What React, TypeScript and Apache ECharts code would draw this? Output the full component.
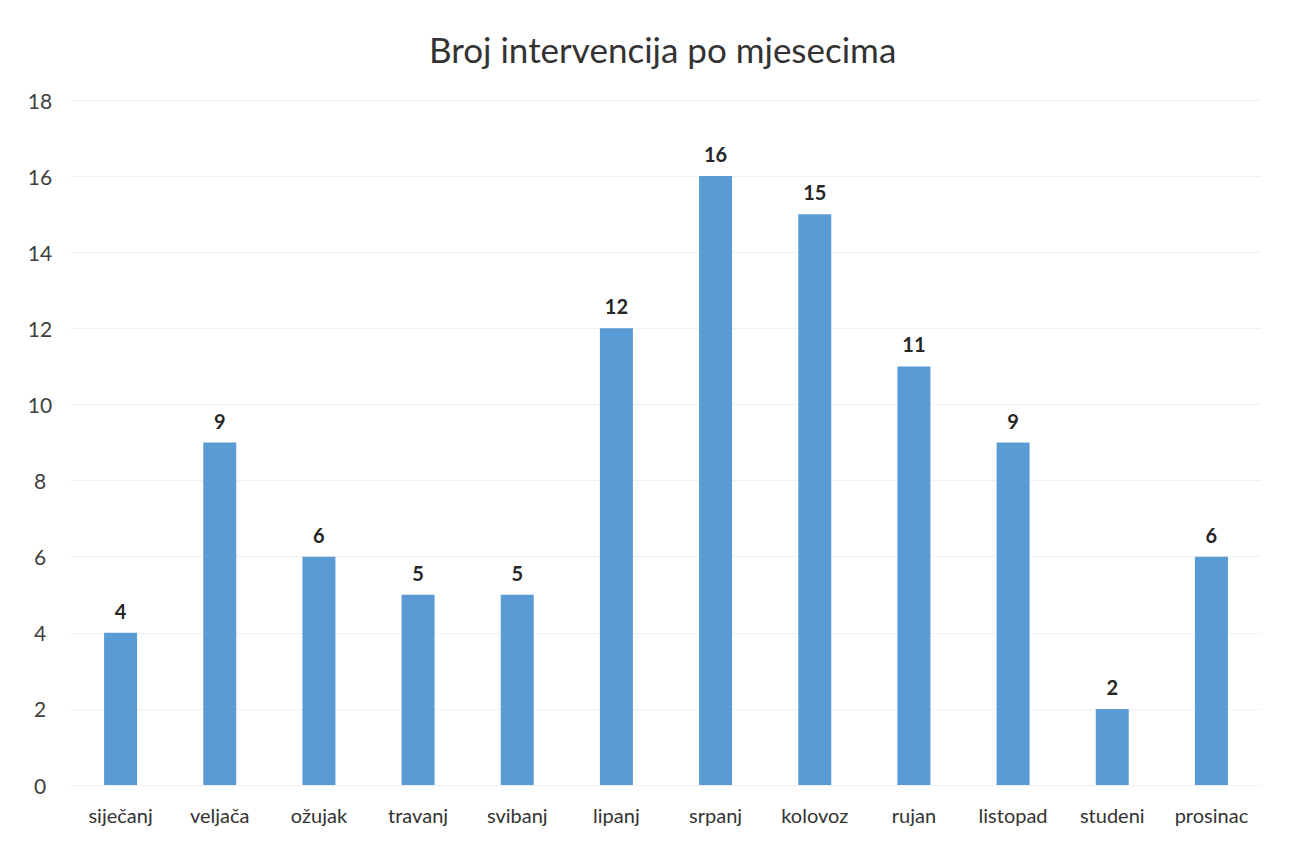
import React, { useEffect, useRef } from "react";
import * as echarts from "echarts";

const title = "Broj intervencija po mjesecima";
const months = ["siječanj", "veljača", "ožujak", "travanj", "svibanj", "lipanj", "srpanj", "kolovoz", "rujan", "listopad", "studeni", "prosinac"];
const interventions = [4, 9, 6, 5, 5, 12, 16, 15, 11, 9, 2, 6];

export default function App() {
  const ref = useRef<HTMLDivElement>(null);
  useEffect(() => {
    const chart = echarts.init(ref.current!, null, { renderer: "svg" });
    chart.setOption({
      animation: false,
      backgroundColor: "#ffffff",
      textStyle: { fontFamily: "Lato" },
      title: {
        text: title,
        left: 416,
        top: 18,
        textStyle: { fontFamily: "Lato", fontSize: 35, fontWeight: "normal", color: "#333333" },
      },
      grid: { left: 63, right: 21, top: 92, bottom: 50 },
      xAxis: {
        type: "category",
        data: months,
        axisLine: { show: false },
        axisTick: { show: false },
        axisLabel: { fontFamily: "Lato", fontSize: 20, color: "#333333", margin: 20, interval: 0 },
      },
      yAxis: {
        type: "value",
        min: 0,
        max: 18,
        interval: 2,
        axisLine: { show: false },
        axisTick: { show: false },
        splitLine: { lineStyle: { color: "#f0f0f0", width: 1 } },
        axisLabel: { fontFamily: "Lato", fontSize: 21, color: "#404040", margin: 31, align: "center" },
      },
      series: [
        {
          type: "bar",
          data: interventions,
          barWidth: 33,
          itemStyle: { color: "#5b9bd5" },
          label: {
            show: true,
            position: "top",
            distance: 12,
            fontFamily: "Lato",
            fontSize: 20,
            fontWeight: "bold",
            color: "#262626",
          },
        },
      ],
    });
    return () => chart.dispose();
  }, []);
  return <div ref={ref} style={{ width: 1274, height: 827 }} />;
}
